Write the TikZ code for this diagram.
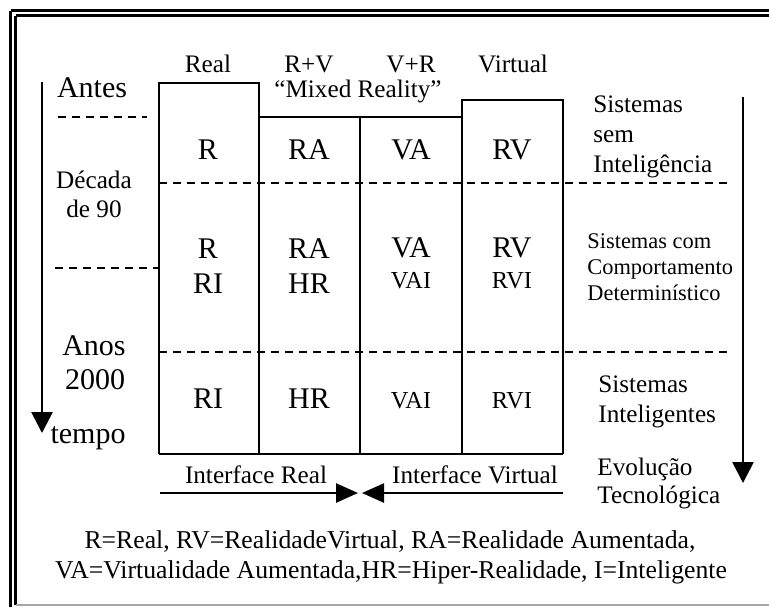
\documentclass[tikz,border=0pt]{standalone}
\usepackage{fontspec}
\setmainfont{Liberation Serif}
\usetikzlibrary{arrows.meta}
\begin{document}
\begin{tikzpicture}[x=0.5pt,y=-0.5pt,
  lbl/.style={inner sep=0pt, anchor=base, font=\fontsize{12.6}{15}\selectfont},
  big/.style={lbl, font=\fontsize{15}{18}\selectfont},
  mid/.style={lbl, font=\fontsize{12.2}{15}\selectfont},
  sml/.style={lbl, anchor=base west, font=\fontsize{11.2}{13}\selectfont},
  side/.style={lbl, anchor=base west},
  legend/.style={lbl, font=\fontsize{12.85}{15}\selectfont},
  boxline/.style={line width=1.3pt},
  sep/.style={line width=1.2pt, dash pattern=on 4pt off 3pt},
  timeline/.style={line width=1.3pt, -{Triangle[length=10.5pt,width=10.5pt]}},
  iface/.style={line width=1.3pt, -{Triangle[length=11pt,width=9.5pt]}},
]
\useasboundingbox (0,0) rectangle (769,607);

% page frame
\draw[line width=1.6pt] (10.5,10.5) -- (769,10.5);
\draw[line width=1.3pt] (15.5,15.5) -- (769,15.5);
\draw[line width=1.6pt] (10.5,10.5) -- (10.5,607);
\draw[line width=1.3pt] (15.5,15.5) -- (15.5,605);
\draw[line width=0.8pt, gray!70] (15.5,605) -- (769,605);

% columns
\draw[boxline] (159,454) -- (159,83) -- (259,83) -- (259,454);
\draw[boxline] (259,117) -- (462,117);
\draw[boxline] (360,117) -- (360,454);
\draw[boxline] (462,454) -- (462,100) -- (563,100) -- (563,454);
\draw[boxline] (159,454) -- (563,454);

% period separators
\draw[sep] (58,117) -- (147,117);
\draw[sep] (159,183) -- (730,183);
\draw[sep] (55,268) -- (159,268);
\draw[sep] (159,352) -- (732,352);

% time axes
\coordinate (t0) at (42,82);
\coordinate (t1) at (42,433);
\draw[timeline] (t0) -- (t1);
\coordinate (e0) at (743,97);
\coordinate (e1) at (743,483);
\draw[timeline] (e0) -- (e1);

% interface arrows
\coordinate (ir0) at (160,493);
\coordinate (ir1) at (358,493);
\coordinate (iv0) at (563,493);
\coordinate (iv1) at (362,493);
\draw[iface] (ir0) -- (ir1);
\draw[iface] (iv0) -- (iv1);

% column headers
\node[lbl] (hReal) at (208,72) {Real};
\node[lbl] (hRV) at (309,72) {R+V};
\node[lbl] (hVR) at (411,72) {V+R};
\node[lbl] (hVirt) at (513,72) {Virtual};
\node[lbl] (mixed) at (358,97) {“Mixed Reality”};

% periods
\node[big] (antes) at (92,97) {Antes};
\node[lbl] (decada) at (94,188) {Década};
\node[lbl] (de90) at (94,217) {de 90};
\node[big] (anos) at (94,355) {Anos};
\node[big] (y2000) at (95,389) {2000};
\node[big] (tempo) at (88,443) {tempo};

% first row
\node[big] (c11) at (208,159) {R};
\node[big] (c12) at (309,159) {RA};
\node[big] (c13) at (411,159) {VA};
\node[big] (c14) at (512,159) {RV};

% second row
\node[big] (c21a) at (208,258) {R};
\node[big] (c21b) at (208,293) {RI};
\node[big] (c22a) at (309,258) {RA};
\node[big] (c22b) at (309,293) {HR};
\node[big] (c23a) at (411,257) {VA};
\node[mid] (c23b) at (411,288) {VAI};
\node[big] (c24a) at (512,257) {RV};
\node[mid] (c24b) at (512,288) {RVI};

% third row
\node[big] (c31) at (208,408) {RI};
\node[big] (c32) at (309,408) {HR};
\node[mid] (c33) at (411,408) {VAI};
\node[mid] (c34) at (512,408) {RVI};

% system classes
\node[side] (s1a) at (593,112) {Sistemas};
\node[side] (s1b) at (593,142) {sem};
\node[side] (s1c) at (593,172) {Inteligência};
\node[sml] (s2a) at (587,248) {Sistemas com};
\node[sml] (s2b) at (587,274) {Comportamento};
\node[sml] (s2c) at (587,300) {Determinístico};
\node[side] (s3a) at (598,392) {Sistemas};
\node[side] (s3b) at (598,422) {Inteligentes};
\node[side] (evo1) at (597,475) {Evolução};
\node[side] (evo2) at (597,503) {Tecnológica};

% interface labels
\node[lbl] (ifr) at (256,483) {Interface Real};
\node[lbl] (ifv) at (475,483) {Interface Virtual};

% legend
\node[legend] (leg1) at (390,548) {R=Real, RV=RealidadeVirtual, RA=Realidade Aumentada,};
\node[legend] (leg2) at (391,578) {VA=Virtualidade Aumentada,HR=Hiper-Realidade, I=Inteligente};
\end{tikzpicture}
\end{document}
